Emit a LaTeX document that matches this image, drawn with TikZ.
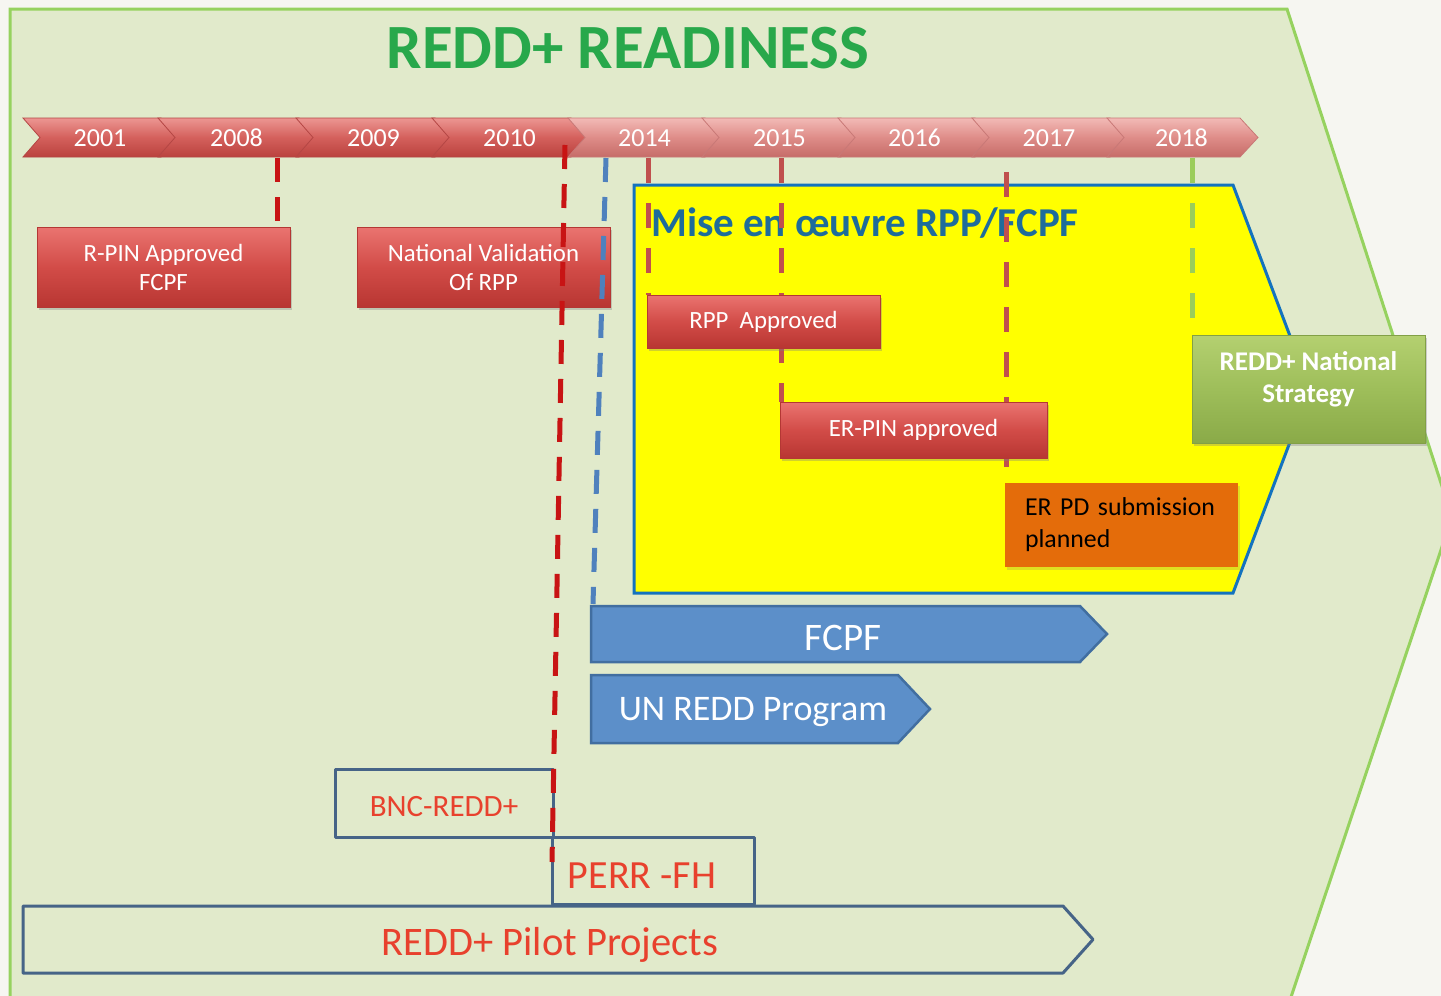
\documentclass[tikz,border=0pt]{standalone}
\usepackage{fontspec}
\setmainfont{Carlito}
\usetikzlibrary{shadows}
\definecolor{pagebg}{RGB}{246,246,241}
\definecolor{panelfill}{RGB}{225,234,203}
\definecolor{panelline}{RGB}{150,210,95}
\definecolor{titlegreen}{RGB}{40,168,75}
\definecolor{darkred}{RGB}{200,20,20}
\definecolor{softred}{RGB}{192,80,77}
\definecolor{dashblue}{RGB}{79,129,189}
\definecolor{dashgreen}{RGB}{155,205,90}
\definecolor{yellowfill}{RGB}{255,255,0}
\definecolor{yellowline}{RGB}{20,115,190}
\definecolor{misecol}{RGB}{30,108,155}
\definecolor{arrowfill}{RGB}{92,143,201}
\definecolor{arrowline}{RGB}{65,110,160}
\definecolor{outline}{RGB}{70,100,135}
\definecolor{redtext}{RGB}{232,65,45}
\definecolor{orangefill}{RGB}{228,108,10}
\definecolor{chAline}{RGB}{180,70,68}
\definecolor{chAtop}{RGB}{236,150,146}
\definecolor{chAmid}{RGB}{212,96,92}
\definecolor{chAbot}{RGB}{186,66,62}
\definecolor{chBline}{RGB}{200,120,118}
\definecolor{chBtop}{RGB}{242,186,182}
\definecolor{chBmid}{RGB}{222,140,136}
\definecolor{chBbot}{RGB}{198,108,104}
\definecolor{rbline}{RGB}{180,55,52}
\definecolor{rbtop}{RGB}{234,116,112}
\definecolor{rbmid}{RGB}{210,76,72}
\definecolor{rbbot}{RGB}{184,54,50}
\definecolor{gbline}{RGB}{130,160,70}
\definecolor{gbtop}{RGB}{180,208,112}
\definecolor{gbmid}{RGB}{158,190,90}
\definecolor{gbbot}{RGB}{138,170,72}
\tikzset{
  chevA/.style={draw=chAline, line width=0.8pt,
    top color=chAtop, bottom color=chAbot, middle color=chAmid},
  chevB/.style={draw=chBline, line width=0.8pt,
    top color=chBtop, bottom color=chBbot, middle color=chBmid},
  yearlbl/.style={text=white, font=\fontsize{26}{30}\selectfont, inner sep=0pt},
  redbox/.style={rectangle, draw=rbline, line width=0.8pt,
    top color=rbtop, bottom color=rbbot, middle color=rbmid,
    text=white, align=center, font=\fontsize{24.8}{29}\selectfont, inner sep=0pt, outer sep=0pt,
    drop shadow={shadow xshift=2pt, shadow yshift=-3pt, opacity=0.35}},
  greenbox/.style={rectangle, draw=gbline, line width=0.8pt,
    top color=gbtop, bottom color=gbbot, middle color=gbmid,
    inner sep=0pt, outer sep=0pt,
    drop shadow={shadow xshift=2pt, shadow yshift=-3pt, opacity=0.35}},
  orangebox/.style={rectangle, fill=orangefill, inner xsep=20pt, inner ysep=0pt, outer sep=0pt,
    text=black, align=left, text width=193pt, minimum height=84pt,
    font=\fontsize{25.8}{32}\selectfont,
    drop shadow={shadow xshift=2pt, shadow yshift=-3pt, opacity=0.25}},
  darkdash/.style={draw=darkred, line width=5pt, dash pattern=on 24pt off 15pt},
  softdash/.style={draw=softred, line width=5pt, dash pattern=on 25pt off 20pt},
  bluedash/.style={draw=dashblue, line width=5pt, dash pattern=on 24pt off 15pt},
  greendash/.style={draw=dashgreen, line width=5pt, dash pattern=on 25pt off 20pt},
  bluearrow/.style={fill=arrowfill, draw=arrowline, line width=2.5pt, line join=miter},
  outbox/.style={draw=outline, line width=3pt, line join=round},
  redlbl/.style={text=redtext, inner sep=0pt},
}
\begin{document}
\begin{tikzpicture}[x=1pt,y=-1pt]
\useasboundingbox (0,0) rectangle (1441,996);
\clip (0,0) rectangle (1441,996);
% background and panel
\fill[pagebg] (0,0) rectangle (1441,996);
\draw[fill=panelfill, draw=panelline, line width=3pt, line join=miter]
  (10,9) -- (1287,9) -- (1452,517) -- (1289,1003) -- (10,1003) -- cycle;
% title
\node[text=titlegreen, font=\bfseries\fontsize{63}{70}\selectfont, inner sep=0pt] (title) at (628,48) {REDD+ READINESS};
% timeline chevrons
\foreach \l/\r/\yr/\st in {23/161/2001/chevA, 158/299/2008/chevA, 296/435/2009/chevA, 432/571/2010/chevA,
  568/705/2014/chevB, 702/841/2015/chevB, 838/975/2016/chevB, 972/1110/2017/chevB, 1107/1240/2018/chevB}{
  \path[\st] (\l,118) -- (\r,118) -- (\r+18,137.5) -- (\r,157) -- (\l,157) -- (\l+17,137.5) -- cycle;
  \node[yearlbl] (y\yr) at ({(\l+\r)/2+8},138) {\yr};
}
% upper red boxes
\node[redbox, minimum width=253pt, minimum height=80pt] (rpin) at (163.5,267) {R-PIN Approved\\FCPF};
\node[redbox, minimum width=253pt, minimum height=80pt] (natval) at (483.5,267) {National Validation\\Of RPP};
% yellow implementation area
\draw[fill=yellowfill, draw=yellowline, line width=3pt, line join=miter]
  (634,185) -- (1233,185) -- (1310,389) -- (1233,593) -- (634,593) -- cycle;
\node[anchor=west, text=misecol, font=\bfseries\fontsize{41}{46}\selectfont, inner sep=0pt] (mise) at (651,223) {Mise en œuvre RPP/FCPF};
% bottom programme bars
\draw[bluearrow] (591,606) -- (1080,606) -- (1107,634) -- (1080,662) -- (591,662) -- cycle;
\node[text=white, font=\fontsize{39}{44}\selectfont, inner sep=0pt] (fcpf) at (843,638) {FCPF};
\draw[bluearrow] (591,675) -- (898,675) -- (930,709) -- (898,743) -- (591,743) -- cycle;
\node[text=white, font=\fontsize{36}{40}\selectfont, inner sep=0pt] (unredd) at (753,712) {UN REDD Program};
\draw[outbox] (335,769) rectangle (553,837);
\node[redlbl, font=\fontsize{31}{35}\selectfont] (bnc) at (444,807) {BNC-REDD+};
\draw[outbox] (552,837) rectangle (754,904);
\node[redlbl, font=\fontsize{40}{44}\selectfont] (perr) at (642,876) {PERR -FH};
\draw[outbox] (23,906) -- (1063,906) -- (1093,939.5) -- (1063,973) -- (23,973) -- cycle;
\node[redlbl, font=\fontsize{40.5}{44}\selectfont] (pilot) at (550,945) {REDD+ Pilot Projects};
% milestone coordinates
\coordinate (c08) at (277,158);
\coordinate (c10) at (565,145);
\coordinate (c10e) at (552,862);
\coordinate (c14b) at (606,158);
\coordinate (c14be) at (593,604);
\coordinate (c14) at (648,158);
\coordinate (c15) at (781,158);
\coordinate (c17) at (1006,172);
\coordinate (c18) at (1192,158);
\coordinate (rppc) at (763.5,321.5);
\coordinate (erpinc) at (913.5,430);
\coordinate (erpdc) at (1121.5,525);
\coordinate (stratc) at (1308.5,389);
% dashed milestone lines
\draw[darkdash] (c08) -- (c08 |- rpin.north);
\draw[softdash] (c14) -- (648,295);
\draw[softdash] (c15) -- (781,402);
\draw[softdash] (c17) -- (1006,483);
\draw[greendash] (c18) -- (1192,335);
\draw[bluedash] (c14b) -- (c14be);
\draw[darkdash] (c10) -- (c10e);
% boxes on top of the milestone lines
\node[redbox, minimum width=233pt, minimum height=53pt] (rpp) at (rppc) {RPP\ \ Approved};
\node[redbox, minimum width=267pt, minimum height=56pt] (erpin) at (erpinc) {ER-PIN approved};
\node[orangebox] (erpd) at (erpdc) {ER PD submission\\planned};
\node[greenbox, minimum width=233pt, minimum height=108pt] (strat) at (stratc) {};
\node[text=white, font=\bfseries\fontsize{27}{32}\selectfont, align=center, inner sep=0pt] (stratlbl) at (1308.5,379) {REDD+ National\\Strategy};
\end{tikzpicture}
\end{document}
